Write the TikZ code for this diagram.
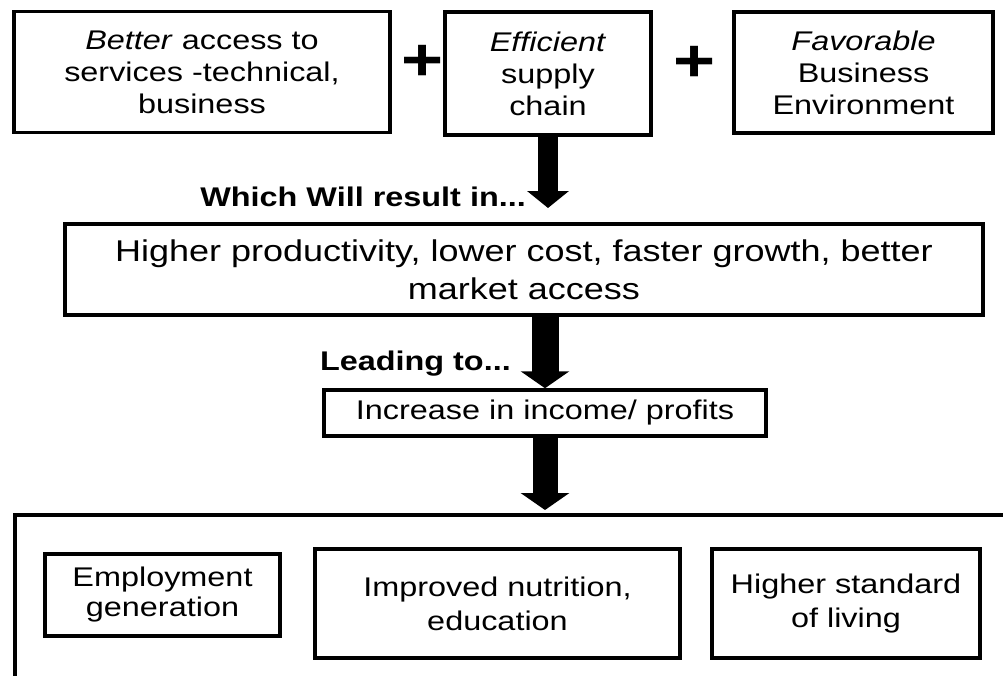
\documentclass[tikz,border=0pt]{standalone}
\usepackage{fontspec}
\setmainfont[FakeStretch=1.2]{Liberation Sans}
\usetikzlibrary{arrows.meta}
\tikzset{
        boxnode/.style={draw=black, line width=3.5pt, align=center, inner sep=0pt},
        % Input boxes
        box_input/.style={boxnode, font=\fontsize{27}{32}\selectfont},
        % Result box
        box_result/.style={boxnode, font=\fontsize{30}{38}\selectfont},
        % Income box
        box_income/.style={boxnode, font=\fontsize{27}{32}\selectfont},
        % Outcome boxes
        box_outcome/.style={boxnode, font=\fontsize{27}{34}\selectfont},
        % Bold labels and plus signs
        label_bold/.style={inner sep=0pt, font=\bfseries\fontsize{27}{30}\selectfont},
        sign_plus/.style={inner sep=0pt, font=\bfseries\fontsize{60}{60}\selectfont},
        % Fat arrows
        fat_arrow/.style n args={2}{line width=#1, -{Triangle[width=#2, length=17pt]}}
}

\begin{document}
\begin{tikzpicture}[x=1pt, y=-1pt]
    \clip (0,0) rectangle (1003,675);
    % Top row
    \node[box_input, minimum width=376pt, minimum height=121pt] (better) at (202,72)
        {\textit{Better} access to\\services -technical,\\business};
    \node[box_input, minimum width=206pt, minimum height=123pt] (efficient) at (548,73.5)
        {\textit{Efficient}\\supply\\chain};
    \node[box_input, minimum width=259pt, minimum height=121pt] (favorable) at (863.5,72.5)
        {\textit{Favorable}\\Business\\Environment};
    \node[sign_plus] (plus1) at (422.5,62.5) {+};
    \node[sign_plus] (plus2) at (695,64) {+};
    % Middle
    \node[box_result, minimum width=918pt, minimum height=91pt] (result) at (524,269.5)
        {Higher productivity, lower cost, faster growth, better\\market access};
    \node[box_income, minimum width=442pt, minimum height=46pt] (income) at (545,413)
        {Increase in income/ profits};
    \node[label_bold, anchor=base east] (which) at (526,206) {Which Will result in...};
    \node[label_bold, anchor=base east] (leading) at (511,370) {Leading to...};
    % Bottom
    \node[boxnode, minimum width=1000pt, minimum height=175pt] (outcomes) at (515,602.5) {};
    \node[box_outcome, font=\fontsize{27}{30}\selectfont, minimum width=235pt, minimum height=82pt]
        (employment) at (162.5,595) {Employment\\generation};
    \node[box_outcome, minimum width=365pt, minimum height=109pt] (nutrition) at (497.5,603.5)
        {Improved nutrition,\\education};
    \node[box_outcome, minimum width=268pt, minimum height=109pt] (living) at (846,603.5)
        {Higher standard\\of living};
    % Arrows
    \coordinate (tip1) at (548,208);
    \coordinate (tip3) at (545,510);
    \draw[fat_arrow={20pt}{41pt}] (efficient.south) -- (tip1);
    \draw[fat_arrow={27pt}{48pt}] (income.north |- result.south) -- (income.north);
    \draw[fat_arrow={25pt}{48pt}] (income.south) -- (tip3);
\end{tikzpicture}
\end{document}
